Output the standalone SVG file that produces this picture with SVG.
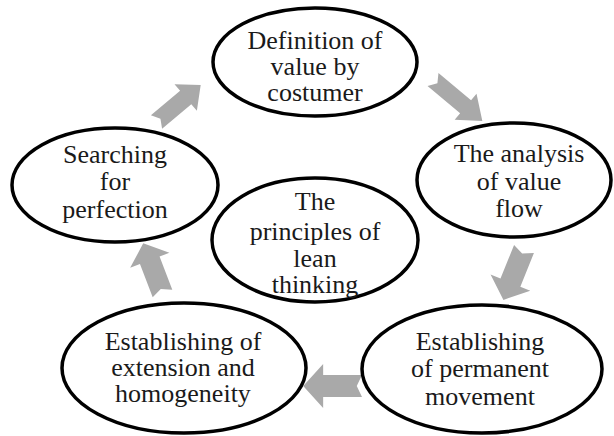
<svg xmlns="http://www.w3.org/2000/svg" width="614" height="436" viewBox="0 0 614 436">
  <style>
    .node ellipse { fill: #ffffff; stroke: #000000; stroke-width: 3.5; }
    .node text { font-family: "Liberation Serif", "Times New Roman", serif; font-size: 26px; fill: #1a1a1a; text-anchor: middle; }
    .arrow { fill: #a9a9a9; }
  </style>
  <defs>
    <!-- notched block arrow pointing along +x, tail at origin -->
    <path id="blockArrow" d="M0,-10 L37,-10 L37,-20 L56,0 L37,20 L37,10 L0,10 L5,0 Z"/>
  </defs>

  <rect width="614" height="436" fill="#ffffff"/>

  <g id="connectors">
    <use class="arrow" href="#blockArrow" transform="translate(156.5,122) rotate(-40) scale(1.03,0.87)"/>
    <use class="arrow" href="#blockArrow" transform="translate(433,79.5) rotate(40) scale(1.15,0.85)"/>
    <use class="arrow" href="#blockArrow" transform="translate(524,249) rotate(112) scale(0.98,1.07)"/>
    <use class="arrow" href="#blockArrow" transform="translate(362,386) rotate(180) scale(1.05,1.1)"/>
    <use class="arrow" href="#blockArrow" transform="translate(162.5,293.5) rotate(-111) scale(0.96,1.05)"/>
  </g>

  <g id="node-definition" class="node">
    <ellipse cx="315" cy="62" rx="102" ry="54"/>
    <text x="315" y="49">Definition of</text>
    <text x="315" y="75">value by</text>
    <text x="315" y="101">costumer</text>
  </g>

  <g id="node-analysis" class="node">
    <ellipse cx="514" cy="180" rx="97" ry="57"/>
    <text x="519" y="162">The analysis</text>
    <text x="519" y="190">of value</text>
    <text x="519" y="217">flow</text>
  </g>

  <g id="node-searching" class="node">
    <ellipse cx="115" cy="185" rx="103" ry="57"/>
    <text x="115" y="163">Searching</text>
    <text x="115" y="190">for</text>
    <text x="115" y="218">perfection</text>
  </g>

  <g id="node-principles" class="node">
    <ellipse cx="315" cy="240" rx="103" ry="62"/>
    <text x="315" y="210">The</text>
    <text x="315" y="240">principles of</text>
    <text x="315" y="267">lean</text>
    <text x="315" y="293">thinking</text>
  </g>

  <g id="node-extension" class="node">
    <ellipse cx="184" cy="368" rx="122" ry="65"/>
    <text x="183" y="350">Establishing of</text>
    <text x="183" y="376">extension and</text>
    <text x="183" y="402">homogeneity</text>
  </g>

  <g id="node-movement" class="node">
    <ellipse cx="482" cy="369" rx="120" ry="64"/>
    <text x="480" y="350">Establishing</text>
    <text x="480" y="377">of permanent</text>
    <text x="480" y="405">movement</text>
  </g>
</svg>
